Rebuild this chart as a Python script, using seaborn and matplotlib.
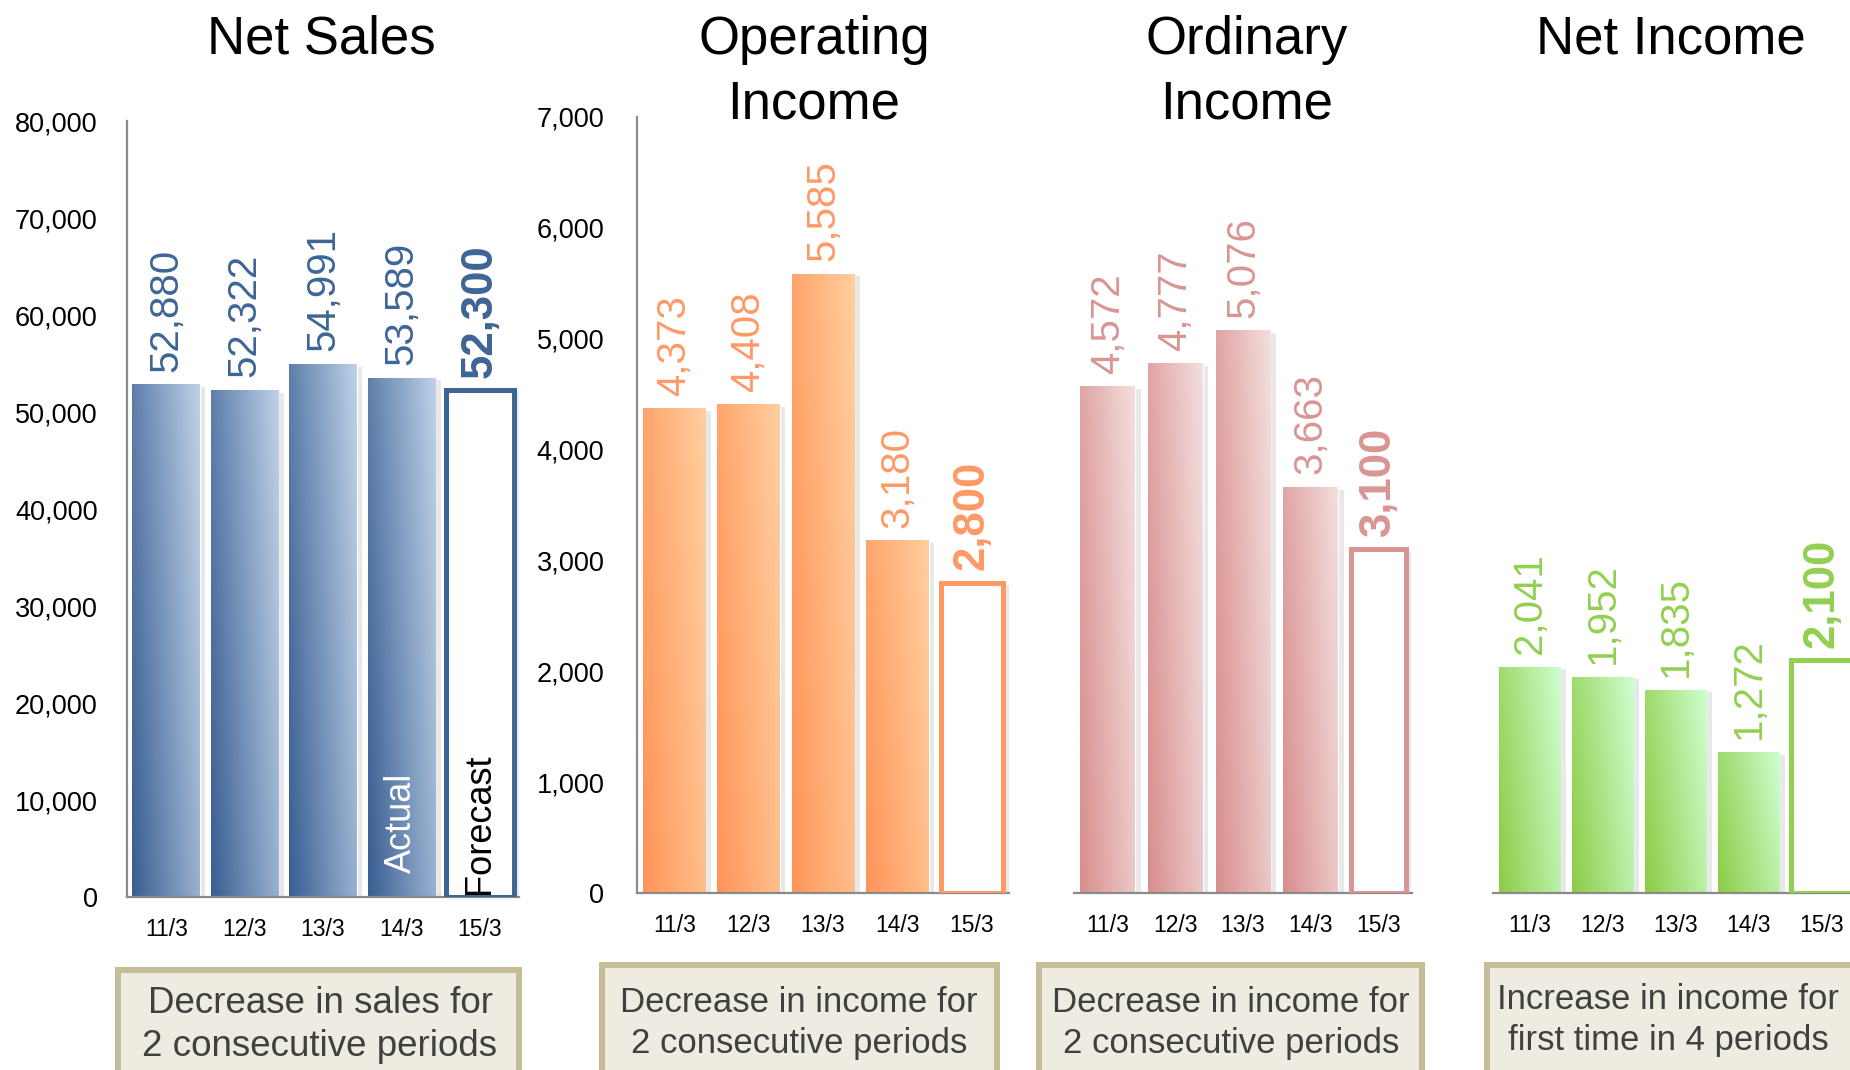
import numpy as np
import seaborn as sns
import matplotlib.pyplot as plt
import matplotlib.patheffects as pe
from matplotlib.colors import LinearSegmentedColormap
from matplotlib.patches import Rectangle
from matplotlib.ticker import FuncFormatter

# data
periods = ["11/3", "12/3", "13/3", "14/3", "15/3"]
net_sales = [52880, 52322, 54991, 53589, 52300]
operating_income = [4373, 4408, 5585, 3180, 2800]
ordinary_income = [4572, 4777, 5076, 3663, 3100]
net_income = [2041, 1952, 1835, 1272, 2100]

titles = ["Net Sales", "Operating\nIncome", "Ordinary\nIncome", "Net Income"]
notes = [
    "Decrease in sales for\n2 consecutive periods",
    "Decrease in income for\n2 consecutive periods",
    "Decrease in income for\n2 consecutive periods",
    "Increase in income for\nfirst time in 4 periods",
]

sns.set_style("white")
plt.rcParams["font.family"] = ["Liberation Sans", "DejaVu Sans"]

W, H = 1850, 1070
fig = plt.figure(figsize=(W / 100, H / 100), dpi=100)


def add_ax(left, top, right, bottom):
    return fig.add_axes([left / W, 1 - bottom / H, (right - left) / W, (bottom - top) / H])


GRAY = "#8a8a8a"


def draw_panel(ax, values, dark, light, label_color, width, ymax, yticks, show_y, ypad):
    sns.barplot(x=periods, y=values, ax=ax, color=dark, saturation=1,
                width=width, errorbar=None)
    cmap = LinearSegmentedColormap.from_list("grad", [dark, light])
    gx, gy = np.meshgrid(np.linspace(0, 1, 80), np.linspace(0, 1, 80))
    grad = 0.72 * gx + 0.28 * gy
    shadow = [pe.SimplePatchShadow(offset=(4, -2), shadow_rgbFace="#999999", alpha=0.22),
              pe.Normal()]
    for i, p in enumerate(ax.patches):
        p.set_path_effects(shadow)
        if i == len(values) - 1:
            # forecast bar: outline only
            p.set_facecolor("white")
            p.set_edgecolor(label_color)
            p.set_linewidth(3.6)
            p.set_zorder(3)
        else:
            x0, w, h = p.get_x(), p.get_width(), p.get_height()
            im = ax.imshow(grad, extent=(x0, x0 + w, 0, h), origin="lower", cmap=cmap,
                           vmin=0, vmax=1, aspect="auto", interpolation="bilinear",
                           zorder=p.get_zorder() + 0.1)
            im.set_clip_path(p)
    for i, (p, v) in enumerate(zip(ax.patches, values)):
        last = i == len(values) - 1
        ax.annotate(f"{v:,}", xy=(p.get_x() + p.get_width() / 2, p.get_height()),
                    xytext=(0, 9), textcoords="offset points", rotation=90,
                    ha="center", va="bottom", color=label_color,
                    fontsize=31.5 if last else 29,
                    fontweight="bold" if last else "normal", zorder=5)
    ax.set_xlim(-0.5, 4.5)
    ax.set_ylim(0, ymax)
    ax.set_facecolor("none")
    for s in ["top", "right"]:
        ax.spines[s].set_visible(False)
    ax.spines["bottom"].set_color(GRAY)
    ax.spines["bottom"].set_linewidth(1.6)
    ax.spines["left"].set_color(GRAY)
    ax.spines["left"].set_linewidth(1.6)
    ax.tick_params(axis="x", length=0, pad=15, labelsize=16.5, colors="black")
    if show_y:
        ax.set_yticks(yticks)
        ax.yaxis.set_major_formatter(FuncFormatter(lambda v, _: f"{v:,.0f}"))
        ax.tick_params(axis="y", direction="in", length=8, width=1.4, color=GRAY,
                       pad=ypad, labelsize=19.5, labelcolor="black")
    else:
        ax.spines["left"].set_visible(False)
        ax.set_yticks([])
    ax.set_xlabel("")
    ax.set_ylabel("")


ax1 = add_ax(127, 121.5, 519, 897)
ax2 = add_ax(637, 116.8, 1009, 893)
ax3 = add_ax(1074, 116.8, 1412, 893)
ax4 = add_ax(1493, 116.8, 1858, 893)

draw_panel(ax1, net_sales, "#395e92", "#bed1e8", "#3d6596", 0.86, 80000,
           range(0, 80001, 10000), True, 21)
draw_panel(ax2, operating_income, "#ff9459", "#ffcf9e", "#ff9966", 0.84, 7000,
           range(0, 7001, 1000), True, 23.5)
draw_panel(ax3, ordinary_income, "#d88e8d", "#f4dede", "#d99594", 0.81, 7000,
           [], False, 0)
draw_panel(ax4, net_income, "#8ccc46", "#cdffcf", "#92d050", 0.84, 7000,
           [], False, 0)

# Actual / Forecast markers inside the net sales bars
p_act, p_fc = ax1.patches[3], ax1.patches[4]
ax1.annotate("Actual", xy=(p_act.get_x() + p_act.get_width() / 2, 0), xytext=(0, 17),
             textcoords="offset points", rotation=90, ha="center", va="bottom",
             color="white", fontsize=26, zorder=6)
ax1.annotate("Forecast", xy=(p_fc.get_x() + p_fc.get_width() / 2, 0), xytext=(0, 2),
             textcoords="offset points", rotation=90, ha="center", va="bottom",
             color="black", fontsize=26, zorder=6)

# titles
title_pos = [(321, 39), (814, 72), (1247, 72), (1671, 39)]
for t, (x, y) in zip(titles, title_pos):
    fig.text(x / W, 1 - y / H, t, ha="center", va="center", fontsize=38,
             linespacing=1.36, color="black")

# note boxes
boxes = [(118, 519, 970, 1025, 26.5), (602, 997, 965, 1023, 25),
         (1039, 1422, 965, 1023, 25), (1487, 1862, 965, 1020, 25)]
text_x = [320, 799, 1231, 1668]
for note, (l, r, top, cy, fs), tx in zip(notes, boxes, text_x):
    fig.add_artist(Rectangle((l / W, 1 - 1090 / H), (r - l) / W, (1090 - top) / H,
                             transform=fig.transFigure, facecolor="#eeece1",
                             edgecolor="#c4bd97", linewidth=4.3, zorder=1))
    fig.text(tx / W, 1 - cy / H, note, ha="center", va="center",
             fontsize=fs, color="#404040", linespacing=1.3, zorder=2)

fig.savefig("out.png", dpi=100)
